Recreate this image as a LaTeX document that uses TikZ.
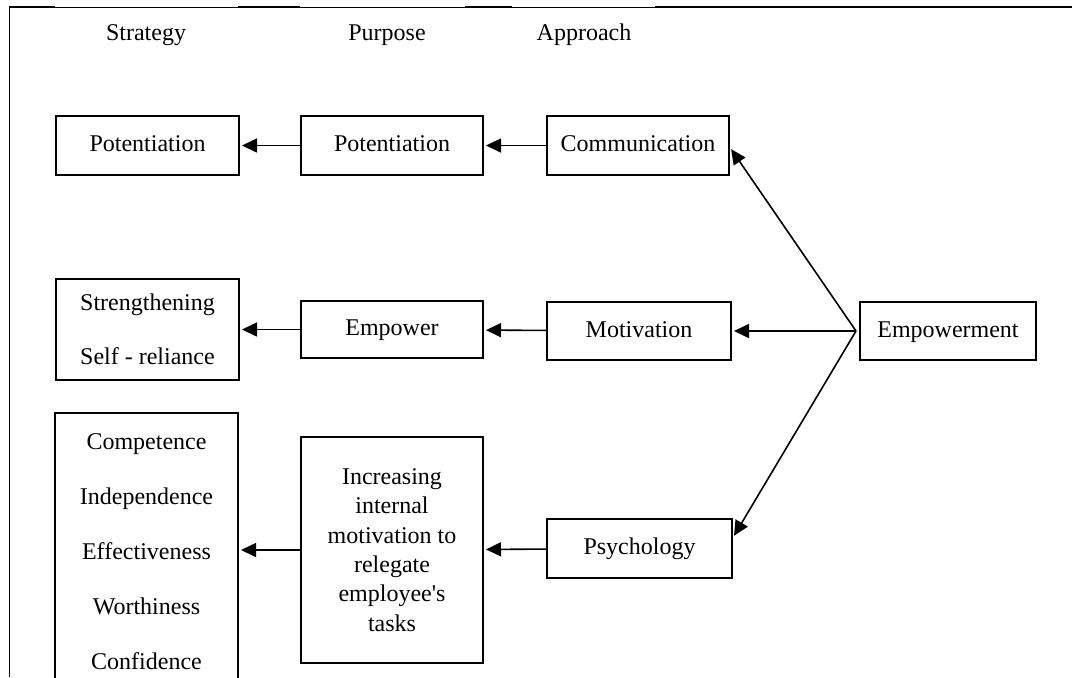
\documentclass[tikz,border=0pt]{standalone}
\usepackage{fontspec}
\setmainfont{Liberation Serif}
\usetikzlibrary{arrows.meta}

\begin{document}
\begin{tikzpicture}[x=0.5pt,y=-0.5pt,
    font=\fontsize{12pt}{14.7pt}\selectfont,
    box/.style={draw,line width=1pt,align=center,inner sep=0pt},
    onebox/.style={box,text height=8.5pt,text depth=2.5pt},
    arr/.style={line width=0.8pt,shorten >=1pt,-{Triangle[length=7.5pt,width=7pt]}}]
  \clip (0,0) rectangle (1072,677);
  %frame
  \draw[line width=0.5pt] (9,677) -- (9,7) -- (1072,7);
  \foreach \a/\b in {9/55,238/300,465/512,655/1072}
    \draw[line width=1pt] (\a,7) -- (\b,7);

  %headings
  \node (hstrat) at (146,35) {Strategy};
  \node (hpurp) at (387,35) {Purpose};
  \node (happr) at (584,35) {Approach};

  %first row
  \node[onebox,minimum width=91.5pt,minimum height=29.5pt] (strat1) at (147.5,145.5) {Potentiation};
  \node[onebox,minimum width=91pt,minimum height=29.5pt] (purp1) at (392,145.5) {Potentiation};
  \node[onebox,minimum width=91pt,minimum height=29.5pt] (comm) at (638,145.5) {Communication};

  %second row
  \node[box,minimum width=91.5pt,minimum height=50.5pt,
    font=\fontsize{12pt}{27pt}\selectfont] (strat2) at (147.5,329.5) {Strengthening\\Self - reliance};
  \node[onebox,minimum width=91pt,minimum height=28.5pt] (purp2) at (392,329.5) {Empower};
  \node[onebox,minimum width=92pt,minimum height=29pt] (motiv) at (639,331) {Motivation};
  \node[onebox,minimum width=88pt,minimum height=29pt] (empow) at (948,331) {Empowerment};

  %third row
  \node[box,minimum width=91.5pt,minimum height=139pt,
    font=\fontsize{12pt}{27.5pt}\selectfont] (strat3) at (146.5,552)
    {Competence\\Independence\\Effectiveness\\Worthiness\\Confidence};
  \node[box,minimum width=91pt,minimum height=113pt] (purp3) at (392,550)
    {Increasing\\internal\\motivation to\\relegate\\employee\textquotesingle s\\tasks};
  \node[onebox,minimum width=92.5pt,minimum height=29.5pt] (psych) at (639.5,548.5) {Psychology};

  %arrows
  \draw[arr] (purp1) -- (strat1);
  \draw[arr] (comm) -- (purp1);
  \draw[arr] (purp2) -- (strat2);
  \draw[arr] (motiv) -- (purp2);
  \draw[arr] (purp3.west) -- (purp3.west -| strat3.east);
  \draw[arr] (psych) -- (purp3);

  \coordinate (fan) at ([xshift=-1.5pt]empow.west);
  \draw[arr] (fan) -- ([yshift=-1pt]comm.east);
  \draw[arr] (fan) -- (motiv.east);
  \draw[arr] (fan) -- ([yshift=5.5pt]psych.east);
\end{tikzpicture}
\end{document}
